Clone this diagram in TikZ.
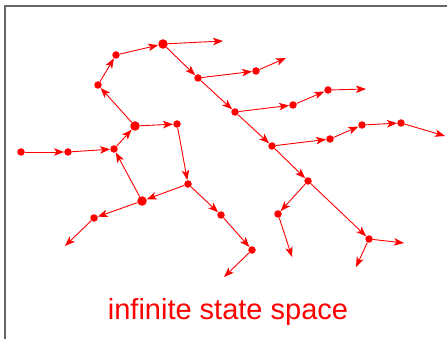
\documentclass[tikz,border=0pt]{standalone}
\usepackage{fontspec}
\setmainfont{Liberation Sans}
\usetikzlibrary{arrows.meta}
\begin{document}
\begin{tikzpicture}[x=1pt,y=-1pt,
  st/.style={circle,fill=red,inner sep=0pt,minimum size=7.5pt},
  bigst/.style={circle,fill=red,inner sep=0pt,minimum size=9.5pt},
  tr/.style={draw=red,line width=0.9pt,-{Stealth[length=10pt,width=7.5pt,inset=2.5pt]}},
  frame/.style={draw=black!60,line width=1.5pt}]
\useasboundingbox (0,0) rectangle (447,339);
\draw[frame] (5,339) -- (5,6) -- (447,6);
% states
\node[st] (A) at (21,152) {};
\node[st] (B) at (68,152) {};
\node[st] (C) at (114,149) {};
\node[bigst] (D) at (135,126) {};
\node[st] (E) at (177,124) {};
\node[st] (F) at (98,85) {};
\node[st] (G) at (116,55) {};
\node[bigst] (H) at (163,44) {};
\node[st] (I) at (198,78) {};
\node[st] (J) at (256,71) {};
\node[st] (K) at (235,112) {};
\node[st] (L) at (293,105) {};
\node[st] (M) at (328,90) {};
\node[st] (N) at (272,146) {};
\node[st] (O) at (330,139) {};
\node[st] (P) at (362,125) {};
\node[st] (Q) at (401,123) {};
\node[st] (R) at (308,181) {};
\node[st] (S) at (278,214) {};
\node[st] (T) at (369,239) {};
\node[st] (U) at (188,184) {};
\node[bigst] (V) at (142,201) {};
\node[st] (W) at (94,218) {};
\node[st] (X) at (221,215) {};
\node[st] (Y) at (252,250) {};
% free ends
\coordinate (h1) at (223,41);
\coordinate (j1) at (286,58);
\coordinate (m1) at (366,89);
\coordinate (q1) at (445,136);
\coordinate (s1) at (292,257);
\coordinate (t1) at (404,243);
\coordinate (t2) at (356,267);
\coordinate (w1) at (65,246);
\coordinate (y1) at (224,277);
% transitions
\draw[tr] (A) -- (B);
\draw[tr] (B) -- (C);
\draw[tr] (C) -- (D);
\draw[tr] (D) -- (E);
\draw[tr] (D) -- (F);
\draw[tr] (F) -- (G);
\draw[tr] (G) -- (H);
\draw[tr] (H) -- (h1);
\draw[tr] (H) -- (I);
\draw[tr] (I) -- (J);
\draw[tr] (J) -- (j1);
\draw[tr] (I) -- (K);
\draw[tr] (K) -- (L);
\draw[tr] (L) -- (M);
\draw[tr] (M) -- (m1);
\draw[tr] (K) -- (N);
\draw[tr] (N) -- (O);
\draw[tr] (O) -- (P);
\draw[tr] (P) -- (Q);
\draw[tr] (Q) -- (q1);
\draw[tr] (N) -- (R);
\draw[tr] (R) -- (S);
\draw[tr] (S) -- (s1);
\draw[tr] (R) -- (T);
\draw[tr] (T) -- (t1);
\draw[tr] (T) -- (t2);
\draw[tr] (E) -- (U);
\draw[tr] (U) -- (V);
\draw[tr] (V) -- (C);
\draw[tr] (V) -- (W);
\draw[tr] (W) -- (w1);
\draw[tr] (U) -- (X);
\draw[tr] (X) -- (Y);
\draw[tr] (Y) -- (y1);
% label
\node[text=red,font=\fontsize{29}{34}\selectfont,anchor=base] (lbl) at (228,319) {infinite state space};
\end{tikzpicture}
\end{document}
